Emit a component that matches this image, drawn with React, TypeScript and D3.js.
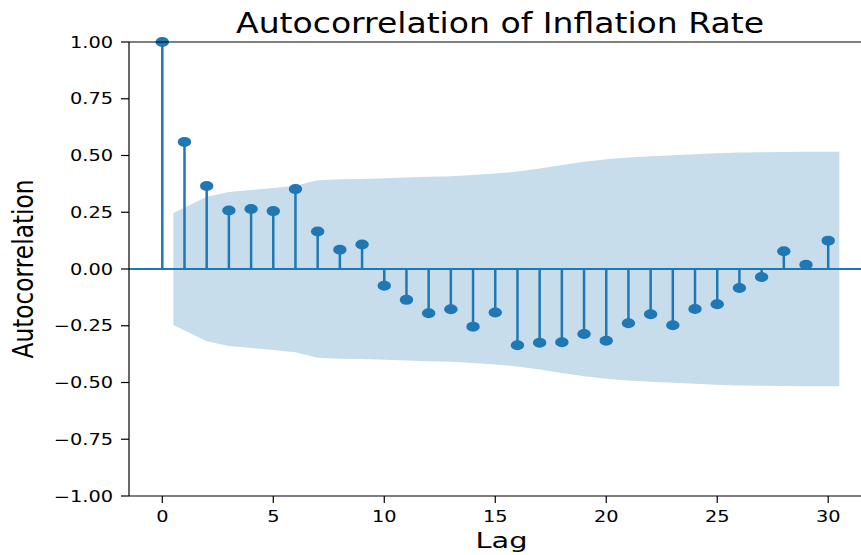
import React from "react";
import * as d3 from "d3";

// acf values, lag 0..30
const lags = d3.range(0, 31);
const acfValues = [
  1.0, 0.56, 0.366, 0.258, 0.264, 0.255, 0.352, 0.165, 0.085, 0.108, -0.074,
  -0.136, -0.195, -0.177, -0.254, -0.192, -0.336, -0.325, -0.323, -0.286,
  -0.316, -0.239, -0.199, -0.248, -0.176, -0.155, -0.084, -0.035, 0.078, 0.019,
  0.125,
];
// half-width of the confidence band, lags 1..30
const bandWidth = [
  0.247, 0.318, 0.339, 0.348, 0.357, 0.367, 0.391, 0.395, 0.397, 0.4, 0.403,
  0.406, 0.409, 0.414, 0.421, 0.429, 0.443, 0.458, 0.472, 0.483, 0.491, 0.497,
  0.501, 0.506, 0.51, 0.513, 0.514, 0.515, 0.516, 0.516,
];
const xTicks = [0, 5, 10, 15, 20, 25, 30];
const yTicks = [-1, -0.75, -0.5, -0.25, 0, 0.25, 0.5, 0.75, 1];

const blue = "#1f77b4";
const font = "DejaVu Sans, sans-serif";

export default function App() {
  const margin = { top: 42, right: 0, bottom: 59, left: 129 };
  const width = 861;
  const height = 555;

  const x = d3
    .scaleLinear()
    .domain([-1.5, 31.5])
    .range([margin.left, 861.5]);
  const y = d3
    .scaleLinear()
    .domain([-1, 1])
    .range([height - margin.bottom, margin.top]);

  // band points: first at lag 0.5, last at 30.5 (like statsmodels)
  const bandData = bandWidth.map((w, i) => {
    let lag = i + 1;
    if (i === 0) lag -= 0.5;
    if (i === bandWidth.length - 1) lag += 0.5;
    return { lag, w };
  });
  const area = d3
    .area<{ lag: number; w: number }>()
    .x((d) => x(d.lag))
    .y0((d) => y(-d.w))
    .y1((d) => y(d.w));

  const fmt = (v: number) => v.toFixed(2).replace("-", "\u2212");

  return (
    <svg
      width={width}
      height={height}
      style={{ position: "absolute", left: 0, top: 0, background: "#fff" }}
    >
      {/* stems */}
      {lags.map((l, i) => (
        <line
          key={"s" + l}
          x1={x(l)}
          x2={x(l)}
          y1={y(0)}
          y2={y(acfValues[i])}
          stroke={blue}
          strokeWidth={2.5}
        />
      ))}
      {/* zero line */}
      <line
        x1={margin.left}
        x2={width}
        y1={y(0)}
        y2={y(0)}
        stroke={blue}
        strokeWidth={2.2}
      />
      {/* markers */}
      {lags.map((l, i) => (
        <ellipse
          key={"m" + l}
          cx={x(l)}
          cy={y(acfValues[i])}
          rx={6.7}
          ry={5}
          fill={blue}
        />
      ))}
      {/* confidence band */}
      <path d={area(bandData) || ""} fill={blue} fillOpacity={0.25} />

      {/* spines */}
      <line
        x1={margin.left}
        x2={margin.left}
        y1={margin.top}
        y2={height - margin.bottom}
        stroke="#000"
        strokeWidth={1.2}
      />
      <line
        x1={margin.left}
        x2={width}
        y1={margin.top}
        y2={margin.top}
        stroke="#000"
        strokeWidth={1.2}
      />
      <line
        x1={margin.left}
        x2={width}
        y1={height - margin.bottom}
        y2={height - margin.bottom}
        stroke="#000"
        strokeWidth={1.2}
      />

      {/* y ticks */}
      {yTicks.map((t) => (
        <g key={"yt" + t}>
          <line
            x1={margin.left - 8}
            x2={margin.left}
            y1={y(t)}
            y2={y(t)}
            stroke="#000"
            strokeWidth={1.2}
          />
          <text
            transform={`translate(${margin.left - 16},${y(t) + 5.5}) scale(1.29,1)`}
            textAnchor="end"
            fontFamily={font}
            fontSize={15}
            fill="#000"
          >
            {fmt(t)}
          </text>
        </g>
      ))}

      {/* x ticks */}
      {xTicks.map((t) => (
        <g key={"xt" + t}>
          <line
            x1={x(t)}
            x2={x(t)}
            y1={height - margin.bottom}
            y2={height - margin.bottom + 7}
            stroke="#000"
            strokeWidth={1.2}
          />
          <text
            transform={`translate(${x(t)},521.5) scale(1.29,1)`}
            textAnchor="middle"
            fontFamily={font}
            fontSize={15}
            fill="#000"
          >
            {t}
          </text>
        </g>
      ))}

      {/* labels */}
      <text
        transform="translate(500,33) scale(1.18,1)"
        textAnchor="middle"
        fontFamily={font}
        fontSize={28}
        fill="#000"
      >
        Autocorrelation of Inflation Rate
      </text>
      <text
        transform="translate(501.5,548) scale(1.4,1)"
        textAnchor="middle"
        fontFamily={font}
        fontSize={20.6}
        fill="#000"
      >
        Lag
      </text>
      <text
        transform={`translate(33,${y(0)}) scale(1.19,1) rotate(-90)`}
        textAnchor="middle"
        fontFamily={font}
        fontSize={23.3}
        fill="#000"
      >
        Autocorrelation
      </text>
    </svg>
  );
}
